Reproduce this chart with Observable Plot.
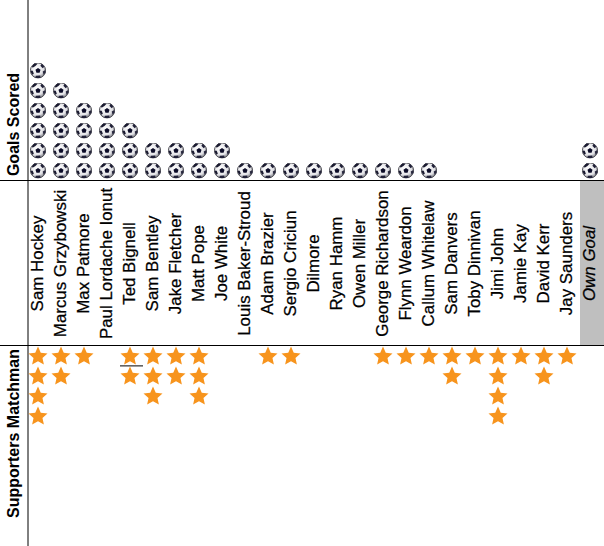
<!DOCTYPE html>
<html><head><meta charset="utf-8">
<script src="https://cdn.jsdelivr.net/npm/d3@7"></script>
<script src="https://cdn.jsdelivr.net/npm/@observablehq/plot@0.6"></script>
<style>html,body{margin:0;padding:0;background:#fff}svg{display:block}</style>
</head><body><div id="chart"></div>
<script>
const players = ["Sam Hockey","Marcus Grzybowski","Max Patmore","Paul Lordache Ionut","Ted Bignell","Sam Bentley","Jake Fletcher","Matt Pope","Joe White","Louis Baker-Stroud","Adam Brazier","Sergio Criciun","Dilmore","Ryan Hamm","Owen Miller","George Richardson","Flynn Weardon","Callum Whitelaw","Sam Danvers","Toby Dinnivan","Jimi John","Jamie Kay","David Kerr","Jay Saunders","Own Goal"];
const goals = [6,5,4,4,3,2,2,2,2,1,1,1,1,1,1,1,1,1,0,0,0,0,0,0,2];
const stars = [4,2,1,0,2,3,2,3,0,0,1,1,0,0,0,1,1,1,2,1,4,1,2,1,0];
const OWN = "Own Goal";
const STAR_TOP = -8.3, LABEL_ROW = -3.65, TOP_RULE = 0.5, MID_RULE = -7.75, TED_RULE = -8.77;
const FONT = "'Liberation Sans',Arial,sans-serif";
const ball = "data:image/svg+xml," + encodeURIComponent(`<svg xmlns='http://www.w3.org/2000/svg' viewBox='0 0 32 32'><defs><radialGradient id='g' cx='.42' cy='.38' r='.7'><stop offset='0' stop-color='#fff'/><stop offset='.62' stop-color='#e2e2e6'/><stop offset='1' stop-color='#5c5c66'/></radialGradient></defs><circle cx='16' cy='16' r='15.2' fill='url(#g)' stroke='#3e3e46' stroke-width='1.8'/><path d='M16 11l5 3.6-1.9 5.9h-6.2l-1.9-5.9z' fill='#0c0c28'/><path d='M8.5 2l6.6 .3-4.2 4.8-5.6 3.2-1.5-2.3z' fill='#1a1a30'/><path d='M23.5 2.5l5.2 6.2-3.4 2.8-4.6-5z' fill='#202038'/><path d='M1.2 15.8l4.2 .9 2.3 5.6-3.2 2A15 15 0 0 1 1.2 15.8z' fill='#1a1a30'/><path d='M30.8 14.8l.2 5.6-3.8 4.2-1.8-6.6z' fill='#28283e'/><path d='M11.5 26.6l9-.4 .6 4.4a15 15 0 0 1-10.2 0z' fill='#202038'/></svg>`);
const fatStar = {draw(context, size){
  const R = Math.sqrt(size/Math.PI), inner = R*0.47;
  for (let k=0;k<10;k++){
    const a = -Math.PI/2 + k*Math.PI/5, q = k%2 ? inner : R;
    k ? context.lineTo(q*Math.cos(a),q*Math.sin(a)) : context.moveTo(q*Math.cos(a),q*Math.sin(a));
  }
  context.closePath();
}};
const ballRows = players.flatMap((p,i)=>d3.range(1,goals[i]+1).map(r=>({p,r})));
const starRows = players.flatMap((p,i)=>d3.range(stars[i]).map(r=>({p,r:STAR_TOP-r})));
const labelOpts = {x:"p",y:()=>LABEL_ROW,text:"p",rotate:-90,textAnchor:"middle",lineAnchor:"middle",fill:"#000",stroke:"#000",strokeWidth:0.25,fontSize:16.9,fontFamily:FONT};
const sideOpts = {x:()=>players[0],dx:-24.5,text:d=>d,rotate:-90,textAnchor:"middle",lineAnchor:"middle",fill:"#000",fontSize:16,fontWeight:"bold",fontFamily:FONT};

const chart = Plot.plot({
  width:604, height:546, margin:0,
  x:{type:"band",domain:players,range:[26,601],padding:0,axis:null},
  y:{type:"linear",domain:[9.5,-17.8],range:[0,546],axis:null},
  marks:[
    Plot.rect([OWN],{x:d=>d,y1:TOP_RULE,y2:MID_RULE,fill:"#bfbfbf",insetLeft:2,insetRight:-3}),
    Plot.ruleY([TOP_RULE,MID_RULE],{stroke:"#000",strokeWidth:1,strokeOpacity:1}),
    Plot.ruleX([players[0]],{x:d=>d,dx:-10,stroke:"#000",strokeWidth:1,strokeOpacity:1}),
    Plot.tickY([TED_RULE],{x:()=>"Ted Bignell",y:d=>d,stroke:"#000",strokeWidth:1,strokeOpacity:1,dx:2}),
    Plot.image(ballRows,{x:"p",y:"r",src:()=>ball,width:16,height:16}),
    Plot.dot(starRows,{x:"p",y:"r",symbol:fatStar,r:10,fill:"#f7941d",stroke:"none"}),
    Plot.text(players.filter(p=>p!==OWN).map(p=>({p})),labelOpts),
    Plot.text([{p:OWN}],{...labelOpts,fontStyle:"italic"}),
    Plot.text(["Goals Scored"],{...sideOpts,y:()=>3.3}),
    Plot.text(["Supporters Matchman"],{...sideOpts,y:()=>-12.15})
  ]
});
document.getElementById("chart").append(chart);
</script></body></html>
